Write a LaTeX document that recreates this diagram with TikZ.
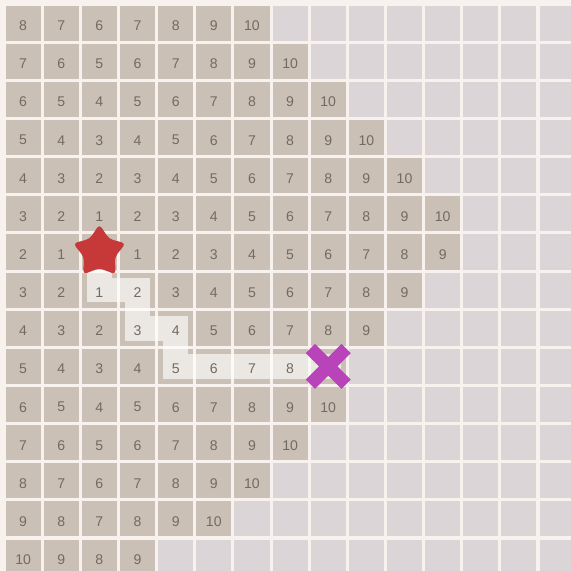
\documentclass[tikz,border=0pt]{standalone}
\usepackage{fontspec}
\setmainfont{Liberation Sans}
\usetikzlibrary{shapes.geometric}
\definecolor{gapwhite}{HTML}{F8F2EF}
\definecolor{emptycell}{HTML}{DCD5D7}
\definecolor{seencell}{HTML}{CBC0B6}
\definecolor{numgray}{HTML}{726A64}
\definecolor{startred}{HTML}{C73838}
\definecolor{goalpink}{HTML}{B943B8}
\tikzset{
  cell/.style={rectangle, inner sep=0pt, minimum size=0.92cm, fill=#1},
  dist/.style={font=\fontsize{10.5}{12}\selectfont, text=numgray, yshift=-0.07cm},
  route/.style={white, opacity=0.62, line width=0.65cm, line join=miter, line cap=rect},
  startstar/.style={star, star points=5, star point ratio=1.7, minimum size=1.45cm,
    inner sep=0pt, rounded corners=3pt, fill=startred},
  goalbar/.style={goalpink, line width=0.34cm},
}

\begin{document}
\begin{tikzpicture}
  \clip (-0.106,0.106) rectangle (14.865,-14.865);
  \fill[gapwhite] (-0.106,0.106) rectangle (14.865,-14.865);
  % empty grid
  \foreach \r in {0,...,14}
    \foreach \c in {0,...,14}
      \node[cell=emptycell] (g-\r-\c) at (\c+0.5,-\r-0.5) {};
  % visited cells (row / last column)
  \foreach \r/\n in {0/6,1/7,2/8,3/9,4/10,5/11,6/11,7/10,8/9,9/8,10/8,11/7,12/6,13/5,14/3}
    \foreach \c in {0,...,\n}
      \node[cell=seencell] (v-\r-\c) at (\c+0.5,-\r-0.5) {};
  \coordinate (start) at (v-6-2);
  \coordinate (goal) at (v-9-8);
  % found route
  \draw[route] (v-7-2.center) -- (v-7-3.center) -- (v-8-3.center) -- (v-8-4.center)
    -- (v-9-4.center) -- (goal);
  \draw[route, line cap=butt] (start) -- ([yshift=0.33cm]v-7-2.center);
  % distances
  \foreach \r/\n in {0/6,1/7,2/8,3/9,4/10,5/11,6/11,7/10,8/9,9/8,10/8,11/7,12/6,13/5,14/3}
    \foreach \c in {0,...,\n}{
      \pgfmathtruncatemacro\d{abs(\r-6)+abs(\c-2)}
      \pgfmathtruncatemacro\hideit{or(\d==0, and(\r==9,\c==8))}
      \ifnum\hideit=0 \node[dist] (n-\r-\c) at (v-\r-\c) {\d};\fi
    }
  \node[startstar] (startmark) at (start) {};
  \draw[goalbar] ([shift={(-0.47,0.47)}]goal) -- ([shift={(0.47,-0.47)}]goal);
  \draw[goalbar] ([shift={(-0.47,-0.47)}]goal) -- ([shift={(0.47,0.47)}]goal);
\end{tikzpicture}
\end{document}
